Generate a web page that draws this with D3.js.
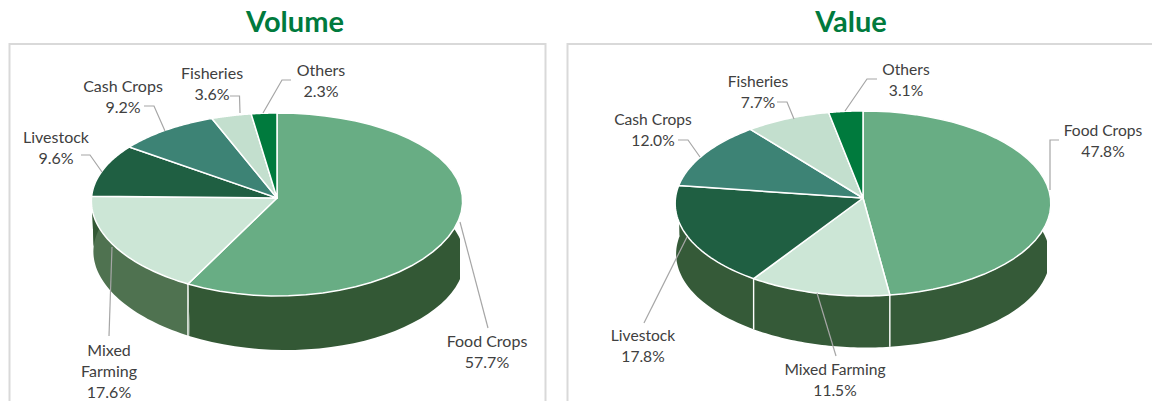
<!DOCTYPE html>
<html><head><meta charset="utf-8">
<script src="https://cdnjs.cloudflare.com/ajax/libs/d3/7.8.5/d3.min.js"></script>
<style>html,body{margin:0;background:#fff}svg{display:block}text{font-family:Lato,"Open Sans",sans-serif}</style>
</head><body><svg id="c" width="1152" height="401"></svg>
<script>
const categories=["Food Crops","Mixed Farming","Livestock","Cash Crops","Fisheries","Others"];
const volumeValues=[57.7,17.6,9.6,9.2,3.6,2.3];
const valueValues=[47.8,11.5,17.8,12.0,7.7,3.1];
const sliceColors=["#68ad84","#cce6d6","#1f5f42","#3d8375","#c3dfce","#007a3d"];
const volumeSideColors=["#335835","#4f7250","#335835","#335835","#335835","#335835"];
const valueSideColors=["#355a38","#355a38","#355a38","#355a38","#355a38","#355a38"];

const panels=[
 {id:"vol",title:"Volume",titleX:295,frame:[9.5,44,536],values:volumeValues,sides:volumeSideColors,labelSize:16,
  cx:277,cy:198,rx:185.5,ry:91,k:0.071,kx:0.035,depth:54,wall:[92,460],shift:2,shear:0.02,wallScale:1,
  labels:[
   {lines:["Food Crops","57.7%"],x:487,y:347,leader:[[460,222],[488,328]]},
   {lines:["Mixed","Farming","17.6%"],x:109,y:356,leader:[[112,247],[109,336]]},
   {lines:["Livestock","9.6%"],x:56,y:143,leader:[[102,172],[90,155],[81,155]]},
   {lines:["Cash Crops","9.2%"],x:123,y:92,leader:[[165,131],[154,106],[144,106]]},
   {lines:["Fisheries","3.6%"],x:212,y:79,leader:[[240,113],[239.5,96],[230,96]]},
   {lines:["Others","2.3%"],x:321,y:76,leader:[[263,113],[282,80],[291,80]]}
  ]},
 {id:"val",title:"Value",titleX:851,frame:[567.5,44,590],values:valueValues,sides:valueSideColors,labelSize:15.6,
  cx:863,cy:198,rx:187.5,ry:92.2,k:0.059,kx:0.059,depth:52,wall:[676,1047],shift:0,shear:0.008,wallScale:0.995,
  labels:[
   {lines:["Food Crops","47.8%"],x:1103,y:136,leader:[[1050,190],[1050,140],[1059,140]]},
   {lines:["Mixed Farming","11.5%"],x:835,y:375,leader:[[817,293],[836,356]]},
   {lines:["Livestock","17.8%"],x:643,y:341,leader:[[687,237],[644,323]]},
   {lines:["Cash Crops","12.0%"],x:653,y:125,leader:[[700,157],[688,140],[678,140]]},
   {lines:["Fisheries","7.7%"],x:758,y:87,leader:[[794,119],[787,102],[777,102]]},
   {lines:["Others","3.1%"],x:906,y:75,leader:[[845,111],[867,79],[877,79]]}
  ]}
];

const svg=d3.select("#c");
const pieGen=d3.pie().sort(null).value(d=>d);
const path=d3.line();

panels.forEach(p=>{
  const project=(a,lower=false)=>{
    const u=Math.sin(a),v=-Math.cos(a);
    const x=p.rx*u/(1-p.kx*v),y=p.ry*v/(1-p.k*v);
    if(!lower) return [p.cx+x,p.cy+y];
    return [p.cx+p.shift+p.wallScale*x, p.cy+p.depth+p.wallScale*y+p.shear*x];
  };
  const arcPts=(a0,a1,lower=false)=>d3.range(0,41).map(i=>project(a0+(a1-a0)*i/40,lower));
  const g=svg.append("g");
  const clipId="wall-"+p.id;
  svg.append("clipPath").attr("id",clipId).append("rect")
    .attr("x",p.wall[0]).attr("y",0).attr("width",p.wall[1]-p.wall[0]).attr("height",401);
  g.append("path").attr("d",`M${p.frame[0]},401V${p.frame[1]}H${p.frame[0]+p.frame[2]}V401`)
    .attr("fill","none").attr("stroke","#d9d9d9").attr("stroke-width",2);
  g.append("text").attr("x",p.titleX).attr("y",32).attr("text-anchor","middle")
    .attr("font-size",29).attr("font-weight",700).attr("fill","#007a3d").text(p.title);
  const arcs=pieGen(p.values);
  const walls=g.append("g").attr("clip-path",`url(#${clipId})`);
  arcs.forEach((d,i)=>{
    const a0=Math.max(d.startAngle,Math.PI*0.35),a1=Math.min(d.endAngle,Math.PI*1.65);
    if(a1<=a0) return;
    const top=arcPts(a0,a1);
    const bot=arcPts(a0,a1,true).reverse();
    walls.append("path").attr("d",path(top.concat(bot))+"Z").attr("fill",p.sides[i]);
  });
  arcs.forEach(d=>{
    const a=d.endAngle;
    if(a>Math.PI*0.6&&a<Math.PI*1.4){
      const t=project(a),b=project(a,true);
      walls.append("path").attr("d",path([t,[t[0],b[1]]]))
       .attr("stroke","#fff").attr("stroke-width",1.4).attr("fill","none");
    }
  });
  arcs.forEach((d,i)=>{
    const pts=[[p.cx,p.cy]].concat(arcPts(d.startAngle,d.endAngle));
    g.append("path").attr("d",path(pts)+"Z").attr("fill",sliceColors[i])
     .attr("stroke","#fff").attr("stroke-width",1.5).attr("stroke-linejoin","round");
  });
  p.labels.forEach(l=>{
    g.append("path").attr("d",path(l.leader)).attr("fill","none").attr("stroke","#a6a6a6").attr("stroke-width",1.2);
    l.lines.forEach((t,j)=>{
      g.append("text").attr("x",l.x).attr("y",l.y+j*21).attr("text-anchor","middle")
       .attr("font-size",p.labelSize).attr("fill","#404040").text(t);
    });
  });
});
</script></body></html>
